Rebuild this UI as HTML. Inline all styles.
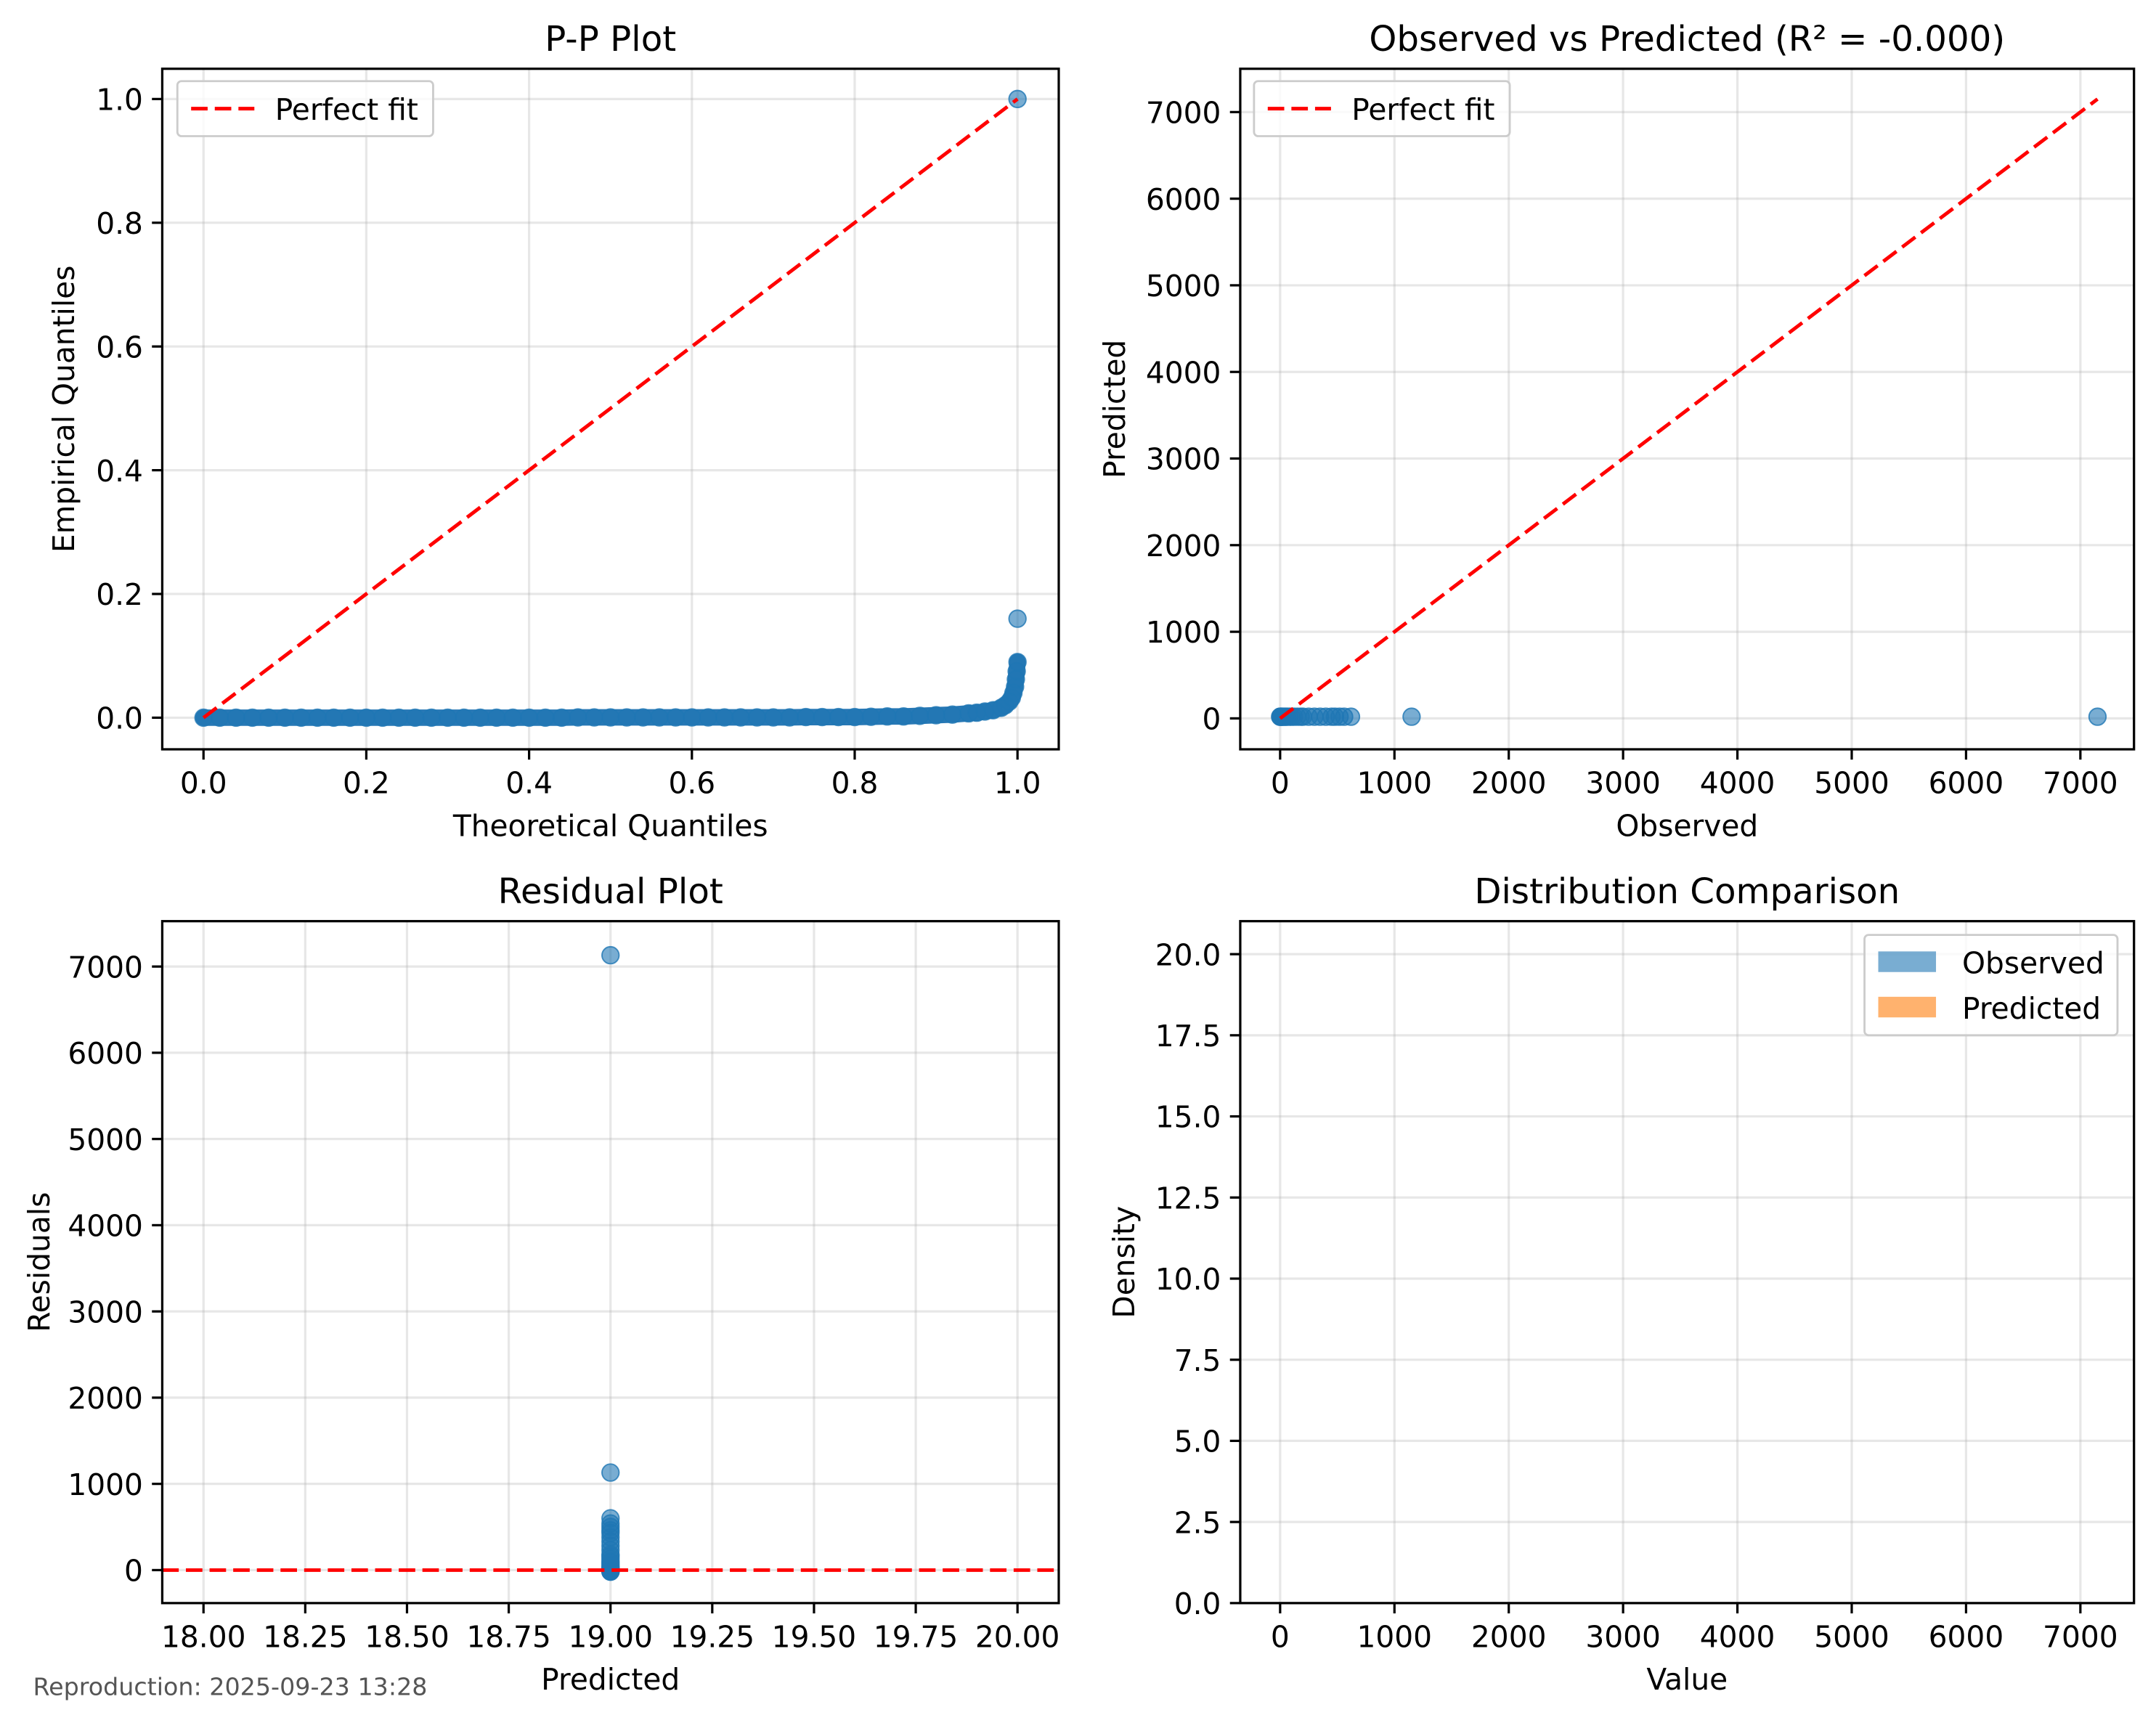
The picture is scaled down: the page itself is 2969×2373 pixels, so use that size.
<!DOCTYPE html>
<html><head><meta charset="utf-8"><style>
html,body{margin:0;padding:0;background:#fff;}
svg{display:block;font-family:"DejaVu Sans","Liberation Sans",sans-serif;}
</style></head><body>
<svg id="fig" width="2969" height="2373" viewBox="0 0 1568 1253.2" xmlns="http://www.w3.org/2000/svg">
<rect width="1568" height="1253.2" fill="#fff"/>
<text x="24" y="1233" font-size="17.6" fill="#555">Reproduction: 2025-09-23 13:28</text>
</svg>
<script>
// ---- data ----
const ppTheo = [0,0.02,0.04,0.06,0.08,0.1,0.12,0.14,0.16,0.18,0.2,0.22,0.24,0.26,0.28,0.3,0.32,0.34,0.36,0.38,0.4,0.42,0.44,0.46,0.48,0.5,0.52,0.54,0.56,0.58,0.6,0.62,0.64,0.66,0.68,0.7,0.72,0.74,0.76,0.78,0.8,0.82,0.84,0.86,0.88,0.9,0.92,0.94,0.95,0.96,0.97,0.98,0.985,0.99,0.993,0.995,0.997,0.998,0.999,1.0];
const ppEmp = [0,0,0,0,0,0,0,0,0,0,0,0,0,0,0,0,0,0,0,0,0,0,0,0.0005,0.0005,0.0005,0.0005,0.0005,0.0005,0.0005,0.0005,0.0005,0.0005,0.0005,0.0005,0.0005,0.0005,0.001,0.001,0.001,0.001,0.0015,0.002,0.002,0.003,0.004,0.005,0.007,0.008,0.01,0.012,0.016,0.02,0.026,0.032,0.04,0.05,0.062,0.075,0.09];
const ppOutX = [1.0,1.0];
const ppOutY = [0.16,1.0];
const observed = [0,2,5,10,15,20,30,40,50,60,80,100,120,150,180,200,250,300,350,400,450,480,520,560,620,1150,7150];
const predictedValue = 19;
const xTicksPP = [0,0.2,0.4,0.6,0.8,1.0];
const yTicksPP = [0,0.2,0.4,0.6,0.8,1.0];
const ticks7k = [0,1000,2000,3000,4000,5000,6000,7000];
const xTicksRes = [18,18.25,18.5,18.75,19,19.25,19.5,19.75,20];
const yTicksDen = [0,2.5,5,7.5,10,12.5,15,17.5,20];

const NS="http://www.w3.org/2000/svg";
const svg=document.getElementById('fig');
function el(tag,attrs,parent){const e=document.createElementNS(NS,tag);for(const k in attrs)e.setAttribute(k,attrs[k]);(parent||svg).appendChild(e);return e;}
function lin(d0,d1,p0,p1){return v=>p0+(v-d0)*(p1-p0)/(d1-d0);}
const BLUE="#1f77b4";
const FS=21.5, TFS=25.5, DASH="12,5.2", LW=2.6;

function panel(o){
  const g=el('g',{});
  
  
  const {L,R,T,B,sx,sy}=o;
  o.xt.forEach(t=>{const x=sx(t);const l=el('line',{x1:x,x2:x,y1:T,y2:B,stroke:"#b0b0b0","stroke-opacity":0.3,"stroke-width":1.7},g);});
  o.yt.forEach(t=>{const y=sy(t);const l=el('line',{x1:L,x2:R,y1:y,y2:y,stroke:"#b0b0b0","stroke-opacity":0.3,"stroke-width":1.7},g);});
  o.draw(g);
  el('rect',{x:L,y:T,width:R-L,height:B-T,fill:"none",stroke:"#000","stroke-width":1.7},g);
  o.xt.forEach((t,i)=>{const x=sx(t);el('line',{x1:x,x2:x,y1:B,y2:B+7.5,stroke:"#000","stroke-width":1.7},g);
    const tx=el('text',{x:x,y:B+32,"font-size":FS,"text-anchor":"middle"},g);tx.textContent=o.xl[i];
    });
  o.yt.forEach((t,i)=>{const y=sy(t);el('line',{x1:L-7.5,x2:L,y1:y,y2:y,stroke:"#000","stroke-width":1.7},g);
    const tx=el('text',{x:L-14,y:y+8,"font-size":FS,"text-anchor":"end"},g);tx.textContent=o.yl[i];
    });
  const ti=el('text',{x:(L+R)/2,y:T-13,"font-size":TFS,"text-anchor":"middle"},g);ti.textContent=o.title;
  
  const xa=el('text',{x:(L+R)/2,y:B+63,"font-size":FS,"text-anchor":"middle"},g);xa.textContent=o.xlab;
  
  const ya=el('text',{x:0,y:0,"font-size":FS,"text-anchor":"middle",transform:`translate(${o.yx},${(T+B)/2}) rotate(-90)`},g);ya.textContent=o.ylab;
  
  return g;
}
function dot(g,x,y){const c=el('circle',{cx:x,cy:y,r:6.2,fill:BLUE,"fill-opacity":0.6,stroke:BLUE,"stroke-opacity":0.8,"stroke-width":1},g);
  }
function fitLegend(g,x,y,w){
  const r=el('rect',{x:x,y:y,width:w,height:40,rx:3,fill:"#fff","fill-opacity":0.8,stroke:"#ccc","stroke-width":1.5},g);
  
  el('line',{x1:x+10,x2:x+56,y1:y+20,y2:y+20,stroke:"red","stroke-width":LW,"stroke-dasharray":DASH},g);
  const t=el('text',{x:x+71,y:y+28,"font-size":FS},g);t.textContent="Perfect fit";
  
}
const fmt0=v=>String(v), fmt1=v=>v.toFixed(1), fmt2=v=>v.toFixed(2);

// P-P plot
{const sx=lin(0,1,148,740), sy=lin(0,1,522,72);
panel({name:'pp-plot',L:118,R:770,T:50,B:545,sx,sy,xt:xTicksPP,yt:yTicksPP,xl:xTicksPP.map(fmt1),yl:yTicksPP.map(fmt1),
 title:'P-P Plot',xlab:'Theoretical Quantiles',ylab:'Empirical Quantiles',yx:54,
 draw:g=>{
  const pl=el('polyline',{points:ppTheo.map((t,i)=>sx(t)+','+sy(ppEmp[i])).join(' '),fill:'none',stroke:"#2878b5","stroke-width":12,"stroke-linejoin":"round","stroke-linecap":"round"},g);
  
  ppTheo.forEach((t,i)=>dot(g,sx(t),sy(ppEmp[i])));
  ppOutX.forEach((t,i)=>dot(g,sx(t),sy(ppOutY[i])));
  const d=el('line',{x1:sx(0),y1:sy(0),x2:sx(1),y2:sy(1),stroke:'red','stroke-width':LW,'stroke-dasharray':DASH},g);
  
  fitLegend(g,129,59,186);
 }});}
// Observed vs predicted
{const sx=lin(0,7000,931,1513), sy=lin(0,7000,522.5,81.5);
const mx=Math.max(...observed);
panel({name:'observed-vs-predicted',L:902,R:1552,T:50,B:545,sx,sy,xt:ticks7k,yt:ticks7k,xl:ticks7k.map(fmt0),yl:ticks7k.map(fmt0),
 title:'Observed vs Predicted (R² = -0.000)',xlab:'Observed',ylab:'Predicted',yx:818,
 draw:g=>{
  observed.forEach(v=>dot(g,sx(v),sy(predictedValue)));
  const d=el('line',{x1:sx(0),y1:sy(0),x2:sx(mx),y2:sy(mx),stroke:'red','stroke-width':LW,'stroke-dasharray':DASH},g);
  
  fitLegend(g,912,59,186);
 }});}
// Residual plot
{const sx=lin(18,20,148,740), sy=lin(0,7000,1142,703);
panel({name:'residual-plot',L:118,R:770,T:670,B:1166,sx,sy,xt:xTicksRes,yt:ticks7k,xl:xTicksRes.map(fmt2),yl:ticks7k.map(fmt0),
 title:'Residual Plot',xlab:'Predicted',ylab:'Residuals',yx:36,
 draw:g=>{
  observed.forEach(v=>dot(g,sx(predictedValue),sy(v-predictedValue)));
  const d=el('line',{x1:118,y1:sy(0),x2:770,y2:sy(0),stroke:'red','stroke-width':LW,'stroke-dasharray':DASH},g);
  
 }});}
// Distribution comparison
{const sx=lin(0,7000,931,1513), sy=lin(0,20,1166,694);
panel({name:'distribution-comparison',L:902,R:1552,T:670,B:1166,sx,sy,xt:ticks7k,yt:yTicksDen,xl:ticks7k.map(fmt0),yl:yTicksDen.map(fmt1),
 title:'Distribution Comparison',xlab:'Value',ylab:'Density',yx:825,
 draw:g=>{
  const r=el('rect',{x:1356,y:680,width:184,height:73,rx:3,fill:"#fff","fill-opacity":0.8,stroke:"#ccc","stroke-width":1.5},g);
  
  [['Observed',BLUE,'legend-entry-observed'],['Predicted','#ff7f0e','legend-entry-predicted']].forEach((e,i)=>{
   el('rect',{x:1366,y:692+i*33,width:42,height:15,fill:e[1],"fill-opacity":0.6},g);
   const t=el('text',{x:1427,y:708+i*33,"font-size":FS},g);t.textContent=e[0];
   
  });
 }});}
</script>
</body></html>
